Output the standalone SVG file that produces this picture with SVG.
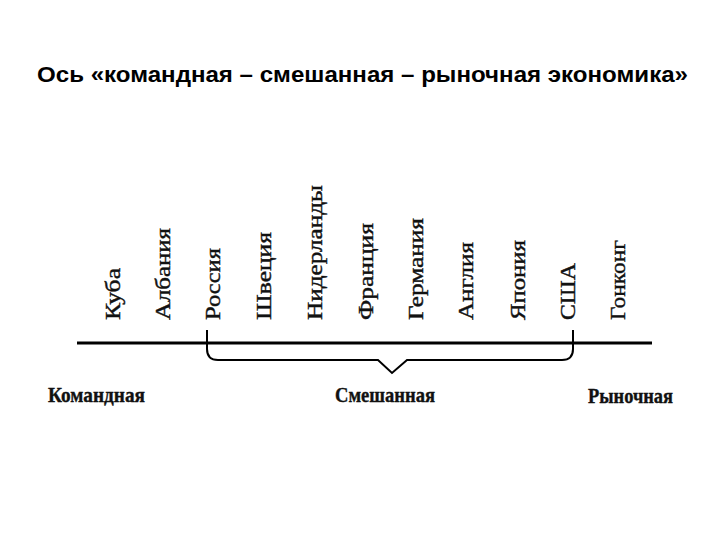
<svg xmlns="http://www.w3.org/2000/svg" width="720" height="540" viewBox="0 0 720 540">
<style>
.title{font-family:"Liberation Sans",Arial,sans-serif;font-weight:bold;font-size:22px;fill:#000}
.country{font-family:"Liberation Serif","Times New Roman",serif;font-size:21px;fill:#111;stroke:#111;stroke-width:0.4}
.kind{font-family:"Liberation Serif","Times New Roman",serif;font-weight:bold;font-size:22px;fill:#111;stroke:#111;stroke-width:0.4}
.axis{stroke:#000;stroke-width:3;fill:none}
.brace{stroke:#000;stroke-width:2;fill:none;stroke-linejoin:miter}
</style>
<rect width="720" height="540" fill="#fff"/>
<text class="title" x="37" y="82" textLength="651" lengthAdjust="spacingAndGlyphs">Ось «командная – смешанная – рыночная экономика»</text>
<g id="countries">
<g id="c-kuba"><text class="country" transform="translate(120,320) rotate(-90)" textLength="52" lengthAdjust="spacingAndGlyphs">Куба</text></g>
<g id="c-albania"><text class="country" transform="translate(170,320) rotate(-90)" textLength="92" lengthAdjust="spacingAndGlyphs">Албания</text></g>
<g id="c-russia"><text class="country" transform="translate(220,320) rotate(-90)" textLength="72" lengthAdjust="spacingAndGlyphs">Россия</text></g>
<g id="c-sweden"><text class="country" transform="translate(271,320) rotate(-90)" textLength="88" lengthAdjust="spacingAndGlyphs">Швеция</text></g>
<g id="c-netherlands"><text class="country" transform="translate(322,320) rotate(-90)" textLength="135" lengthAdjust="spacingAndGlyphs">Нидерланды</text></g>
<g id="c-france"><text class="country" transform="translate(373,320) rotate(-90)" textLength="97" lengthAdjust="spacingAndGlyphs">Франция</text></g>
<g id="c-germany"><text class="country" transform="translate(423,320) rotate(-90)" textLength="102" lengthAdjust="spacingAndGlyphs">Германия</text></g>
<g id="c-england"><text class="country" transform="translate(473,320) rotate(-90)" textLength="78" lengthAdjust="spacingAndGlyphs">Англия</text></g>
<g id="c-japan"><text class="country" transform="translate(525,320) rotate(-90)" textLength="80" lengthAdjust="spacingAndGlyphs">Япония</text></g>
<g id="c-usa"><text class="country" transform="translate(575,320) rotate(-90)" textLength="57" lengthAdjust="spacingAndGlyphs">США</text></g>
<g id="c-hongkong"><text class="country" transform="translate(625,320) rotate(-90)" textLength="80" lengthAdjust="spacingAndGlyphs">Гонконг</text></g>
</g>
<g id="connectors">
<line class="axis" x1="77" y1="343" x2="652" y2="343"/>
<path class="brace" d="M207,330 L207,349 Q207,360 218,360 L378,360 L392,373 L407,360 L562,360 Q573,360 573,349 L573,330"/>
</g>
<g id="labels">
<g id="l-command"><text class="kind" x="48" y="402" textLength="97" lengthAdjust="spacingAndGlyphs">Командная</text></g>
<g id="l-mixed"><text class="kind" x="335" y="402" textLength="100" lengthAdjust="spacingAndGlyphs">Смешанная</text></g>
<g id="l-market"><text class="kind" x="588" y="403" textLength="85" lengthAdjust="spacingAndGlyphs">Рыночная</text></g>
</g>
</svg>
